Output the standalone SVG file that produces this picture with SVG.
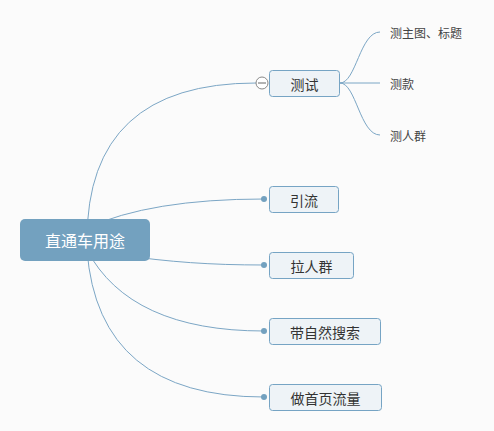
<svg xmlns="http://www.w3.org/2000/svg" width="494" height="431" viewBox="0 0 494 431">
<style>
.bg{fill:#fbfbfb}
.ln{fill:none;stroke:#7ba6c5;stroke-width:1}
.node{fill:#eef3f7;stroke:#76a4c4;stroke-width:1}
.root{fill:#73a1bf}
.t{font-family:"Noto Sans CJK SC","Noto Sans",sans-serif;font-size:14px;fill:#333;text-anchor:middle;dominant-baseline:central}
.rt{font-family:"Noto Sans CJK SC","Noto Sans",sans-serif;font-size:16px;fill:#fff;text-anchor:middle;dominant-baseline:central}
.ct{font-family:"Noto Sans CJK SC","Noto Sans",sans-serif;font-size:12px;fill:#444;dominant-baseline:central}
.dot{fill:#73a1bf}
</style>
<rect class="bg" x="0" y="0" width="494" height="431"/>
<g id="connectors">
<path class="ln" d="M87 240 Q87 83 256 83"/>
<path class="ln" d="M87 228 Q150 199 264 199"/>
<path class="ln" d="M120 255 C170 262 210 265 264 265"/>
<path class="ln" d="M87 250 Q130 331 264 331"/>
<path class="ln" d="M87 250 Q98 397 264 397"/>
<path class="ln" d="M340 83 C356 83 360 32 380 32"/>
<path class="ln" d="M340 83 L380 83"/>
<path class="ln" d="M340 83 C356 83 360 135 380 135"/>
<circle class="dot" cx="264" cy="199" r="3"/>
<circle class="dot" cx="264" cy="265" r="3"/>
<circle class="dot" cx="264" cy="331" r="3"/>
<circle class="dot" cx="264" cy="397" r="3"/>
</g>
<g id="root">
<rect class="root" x="20" y="219" width="130" height="42" rx="5"/>
<text class="rt" x="85" y="240">直通车用途</text>
</g>
<g id="n-ceshi">
<rect class="node" x="269.5" y="70.5" width="70" height="26" rx="3"/>
<text class="t" x="304.5" y="83.5">测试</text>
<circle cx="262" cy="83" r="6" fill="#fff" stroke="#888" stroke-width="1"/>
<line x1="258" y1="83" x2="266" y2="83" stroke="#666" stroke-width="1"/>
</g>
<g id="c1"><text class="ct" x="390" y="32">测主图、标题</text></g>
<g id="c2"><text class="ct" x="390" y="83">测款</text></g>
<g id="c3"><text class="ct" x="390" y="135">测人群</text></g>
<g id="n-yinliu">
<rect class="node" x="269.5" y="186.5" width="69" height="26" rx="3"/>
<text class="t" x="304" y="199.5">引流</text>
</g>
<g id="n-larenqun">
<rect class="node" x="269.5" y="252.5" width="84" height="26" rx="3"/>
<text class="t" x="311.5" y="265.5">拉人群</text>
</g>
<g id="n-ziran">
<rect class="node" x="269.5" y="318.5" width="111" height="26" rx="3"/>
<text class="t" x="325" y="331.5">带自然搜索</text>
</g>
<g id="n-shouye">
<rect class="node" x="269.5" y="384.5" width="112" height="26" rx="3"/>
<text class="t" x="325.5" y="397.5">做首页流量</text>
</g>
</svg>
